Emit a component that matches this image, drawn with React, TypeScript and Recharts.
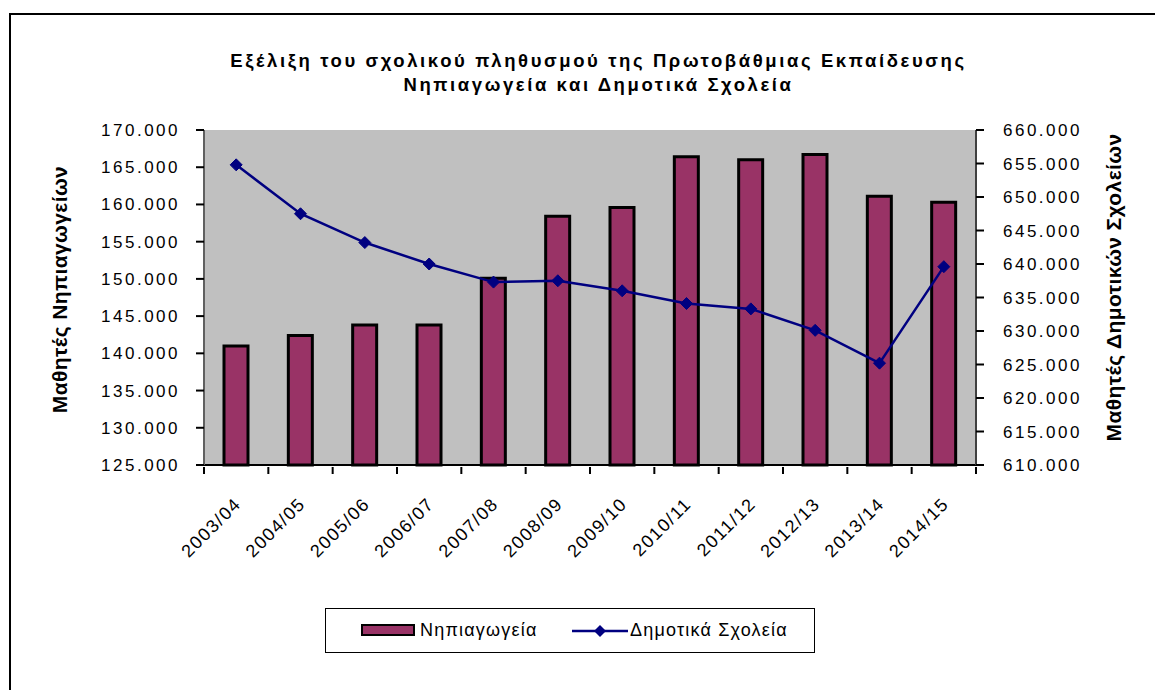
import React from "react";
import {
  ComposedChart,
  Bar,
  Line,
  XAxis,
  YAxis,
  CartesianGrid,
} from "recharts";

const years = [
  "2003/04", "2004/05", "2005/06", "2006/07", "2007/08", "2008/09",
  "2009/10", "2010/11", "2011/12", "2012/13", "2013/14", "2014/15",
];

// Νηπιαγωγεία (left axis)
const kindergarten = [
  141000, 142400, 143800, 143800, 150100, 158400,
  159600, 166400, 166000, 166700, 161100, 160300,
];

// Δημοτικά Σχολεία (right axis)
const primary = [
  654800, 647500, 643200, 640000, 637300, 637500,
  636000, 634100, 633300, 630100, 625200, 639600,
];

const leftTicks = [125000, 130000, 135000, 140000, 145000, 150000, 155000, 160000, 165000, 170000];
const rightTicks = [610000, 615000, 620000, 625000, 630000, 635000, 640000, 645000, 650000, 655000, 660000];

const data = years.map((y, i) => ({
  year: y,
  kinder: kindergarten[i],
  primary: primary[i],
}));

const FONT = "'Liberation Sans', Arial, sans-serif";
const BAR_COLOR = "#993366";
const LINE_COLOR = "#000080";

const fmt = (v: number) => (v / 1000).toFixed(3);

const Diamond = (props: any) => {
  const { cx, cy } = props;
  if (cx == null || cy == null) return null;
  const r = 6;
  return (
    <polygon
      points={`${cx},${cy - r} ${cx + r},${cy} ${cx},${cy + r} ${cx - r},${cy}`}
      fill={LINE_COLOR}
      stroke={LINE_COLOR}
    />
  );
};

const EmptyTick = () => <g />;

// rotated year label + tick marks on the category boundaries (Excel style)
const YearTick = (props: any) => {
  const { x, y, payload, width, visibleTicksCount, index } = props;
  const half = payload.offset || width / visibleTicksCount / 2;
  const last = index === visibleTicksCount - 1;
  return (
    <g>
      <line x1={x - half} y1={y} x2={x - half} y2={y + 7} stroke="#000" strokeWidth={2} />
      {last && (
        <line x1={x + half} y1={y} x2={x + half} y2={y + 7} stroke="#000" strokeWidth={2} />
      )}
      <g transform={`translate(${x + 6},${y + 38})`}>
        <text
          textAnchor="end"
          transform="rotate(-45)"
          fontSize={18}
          fontFamily={FONT}
          fill="#000"
          letterSpacing={1.5}
        >
          {payload.value}
        </text>
      </g>
    </g>
  );
};

const AxisTitle = (props: any) => {
  const { viewBox, tx, value, dy } = props;
  const cy = viewBox.y + viewBox.height / 2 + dy;
  return (
    <text
      x={tx}
      y={cy}
      transform={`rotate(-90, ${tx}, ${cy})`}
      textAnchor="middle"
      fontSize={21}
      fontWeight="bold"
      fontFamily={FONT}
      fill="#000"
      letterSpacing={0.4}
    >
      {value}
    </text>
  );
};

export default function App() {
  const tickStyle = { fontSize: 17, fontFamily: FONT, fill: "#000", letterSpacing: 2.5 };
  return (
    <div
      style={{
        position: "absolute",
        left: 0,
        top: 0,
        width: 1155,
        height: 690,
        background: "#fff",
        overflow: "hidden",
      }}
    >
      <div
        style={{
          position: "absolute",
          left: 9,
          top: 13,
          width: 1160,
          height: 700,
          borderLeft: "2px solid #000",
          borderTop: "2px solid #000",
        }}
      />
      <div
        style={{
          position: "absolute",
          left: 0,
          top: 49,
          width: 1197,
          textAlign: "center",
          fontFamily: FONT,
          fontWeight: "bold",
          fontSize: 18.5,
          letterSpacing: 2.6,
          lineHeight: "24px",
          color: "#000",
        }}
      >
        <div>Εξέλιξη του σχολικού πληθυσμού της Πρωτοβάθμιας Εκπαίδευσης</div>
        <div>Νηπιαγωγεία και Δημοτικά Σχολεία</div>
      </div>

      <div style={{ position: "absolute", left: 0, top: 0 }}>
        <ComposedChart
          width={1155}
          height={690}
          data={data}
          margin={{ top: 130, right: 0, bottom: 0, left: 0 }}
        >
          <CartesianGrid
            horizontal={false}
            vertical={false}
            fill="#C0C0C0"
            fillOpacity={1}
          />
          <XAxis
            xAxisId="top"
            orientation="top"
            dataKey="year"
            height={0}
            tick={<EmptyTick />}
            tickLine={false}
            axisLine={{ stroke: "#808080", strokeWidth: 2 }}
          />
          <XAxis
            dataKey="year"
            height={225}
            interval={0}
            tickLine={false}
            axisLine={{ stroke: "#000", strokeWidth: 2 }}
            tickSize={0}
            tick={<YearTick />}
          />
          <YAxis
            yAxisId="left"
            width={204}
            domain={[125000, 170000]}
            ticks={leftTicks}
            interval={0}
            tickFormatter={fmt}
            tick={tickStyle}
            tickSize={8}
            tickMargin={16}
            tickLine={{ stroke: "#000", strokeWidth: 2 }}
            axisLine={{ stroke: "#606060", strokeWidth: 2 }}
            label={<AxisTitle tx={67} dy={-8} value="Μαθητές Νηπιαγωγείων" />}
          />
          <YAxis
            yAxisId="right"
            orientation="right"
            width={179}
            domain={[610000, 660000]}
            ticks={rightTicks}
            interval={0}
            tickFormatter={fmt}
            tick={{ ...tickStyle, textAnchor: "start" }}
            tickSize={8}
            tickMargin={19}
            tickLine={{ stroke: "#000", strokeWidth: 2 }}
            axisLine={{ stroke: "#404040", strokeWidth: 2 }}
            label={<AxisTitle tx={1121} dy={-10} value="Μαθητές Δημοτικών Σχολείων" />}
          />
          <Bar
            yAxisId="left"
            dataKey="kinder"
            name="Νηπιαγωγεία"
            fill={BAR_COLOR}
            stroke="#000"
            strokeWidth={3}
            barSize={24}
            isAnimationActive={false}
          />
          <Line
            yAxisId="right"
            dataKey="primary"
            name="Δημοτικά Σχολεία"
            type="linear"
            stroke={LINE_COLOR}
            strokeWidth={2.5}
            dot={<Diamond />}
            activeDot={false}
            isAnimationActive={false}
          />
        </ComposedChart>
      </div>

      <div
        style={{
          position: "absolute",
          left: 325,
          top: 608,
          width: 488,
          height: 43,
          border: "1px solid #000",
          fontFamily: FONT,
          fontSize: 18,
          letterSpacing: 1.2,
          color: "#000",
        }}
      >
        <div
          style={{
            position: "absolute",
            left: 35,
            top: 15,
            width: 50,
            height: 8,
            background: BAR_COLOR,
            border: "2px solid #000",
          }}
        />
        <div style={{ position: "absolute", left: 94, top: 11, lineHeight: "20px" }}>
          Νηπιαγωγεία
        </div>
        <svg
          style={{ position: "absolute", left: 246, top: 12 }}
          width={56}
          height={20}
        >
          <line x1={0} y1={10} x2={56} y2={10} stroke={LINE_COLOR} strokeWidth={2.5} />
          <polygon points="28,4 34,10 28,16 22,10" fill={LINE_COLOR} />
        </svg>
        <div style={{ position: "absolute", left: 304, top: 11, lineHeight: "20px" }}>
          Δημοτικά Σχολεία
        </div>
      </div>
    </div>
  );
}
